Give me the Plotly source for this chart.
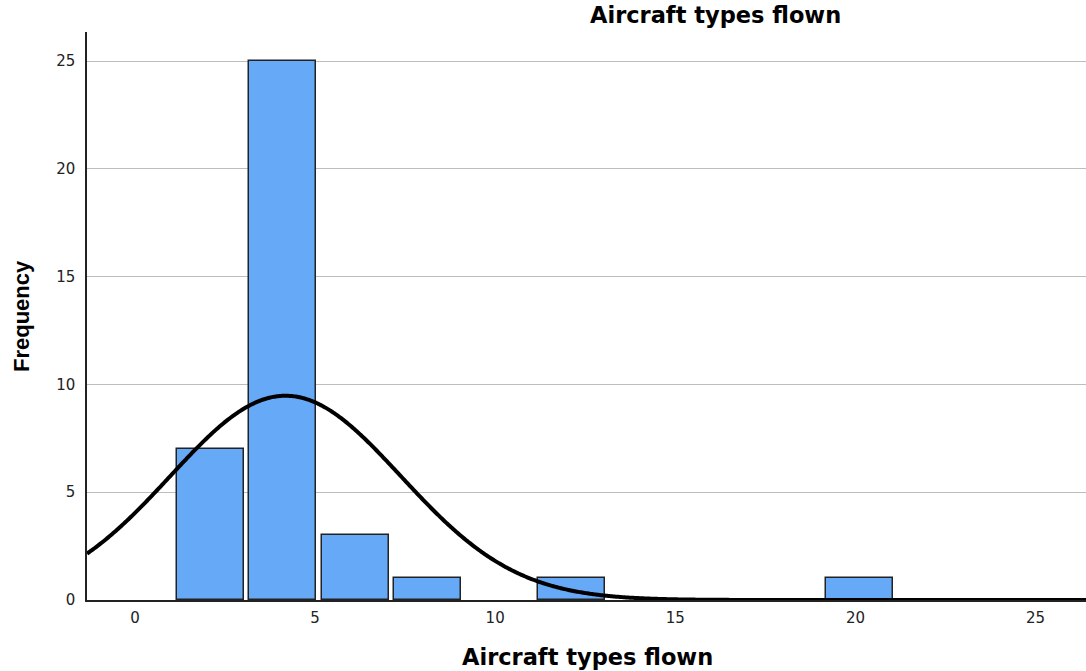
import numpy as np
import plotly.graph_objects as go

bin_centers = [2, 4, 6, 8, 12, 20]
frequencies = [7, 25, 3, 1, 1, 1]
bin_width = 2
curve_mean = 4.18
curve_sd = 3.2
n_total = sum(frequencies)
x_ticks = [0, 5, 10, 15, 20, 25]
y_ticks = [0, 5, 10, 15, 20, 25]

x_min, x_max = -1.33, 26.4
xs = np.linspace(x_min, x_max, 800)
ys = n_total * bin_width / (curve_sd * np.sqrt(2 * np.pi)) * np.exp(-0.5 * ((xs - curve_mean) / curve_sd) ** 2)

W, H = 1086, 671
L, R, T, B = 87, 0, 32, 71
plot_w = W - L - R
plot_h = H - T - B

def px_x(px):
    return (px - L) / plot_w

def px_y(py):
    return (H - B - py) / plot_h

fig = go.Figure()
fig.add_trace(go.Bar(
    x=bin_centers, y=frequencies, width=1.86, offset=-0.82,
    marker=dict(color="#66A9F7", line=dict(color="#222222", width=1.5)),
    hoverinfo="x+y", showlegend=False,
))
fig.add_trace(go.Scatter(
    x=xs, y=ys, mode="lines", line=dict(color="black", width=4, simplify=False),
    showlegend=False, hoverinfo="skip",
))

title_font = dict(family="DejaVu Sans", size=22.5, color="black")
tick_font = dict(family="DejaVu Sans", size=15, color="#222222")
fig.update_layout(
    width=W, height=H,
    margin=dict(l=L, r=R, t=T, b=B),
    paper_bgcolor="white", plot_bgcolor="white",
    bargap=0,
    font=dict(family="DejaVu Sans", size=15, color="#222222"),
    xaxis=dict(
        range=[x_min, x_max], tickvals=x_ticks, showgrid=False, zeroline=False,
        showline=True, linecolor="#222222", linewidth=1.5, ticks="", automargin=False,
        tickfont=tick_font, ticklabelstandoff=3,
    ),
    yaxis=dict(
        range=[0, 26.35], tickvals=y_ticks, showgrid=True, gridcolor="#BDBDBD", gridwidth=1,
        zeroline=False, showline=True, linecolor="#222222", linewidth=1.5, ticks="", automargin=False,
        tickfont=tick_font, ticklabelstandoff=7,
    ),
    annotations=[
        dict(text="<b>Aircraft types flown</b>", x=px_x(715), y=px_y(15), xref="paper", yref="paper",
             xanchor="center", yanchor="middle", showarrow=False, font=title_font),
        dict(text="<b>Aircraft types flown</b>", x=px_x(587), y=px_y(657), xref="paper", yref="paper",
             xanchor="center", yanchor="middle", showarrow=False, font=title_font),
        dict(text="<b>Frequency</b>", x=px_x(21), y=px_y(316), xref="paper", yref="paper",
             xanchor="center", yanchor="middle", showarrow=False, textangle=-90,
             font=dict(family="Liberation Sans", size=22, color="black")),
    ],
)

fig.write_html(
    "out.html",
    config={"displayModeBar": False},
    post_script="document.body.style.margin='0';document.body.style.overflow='hidden';",
)
